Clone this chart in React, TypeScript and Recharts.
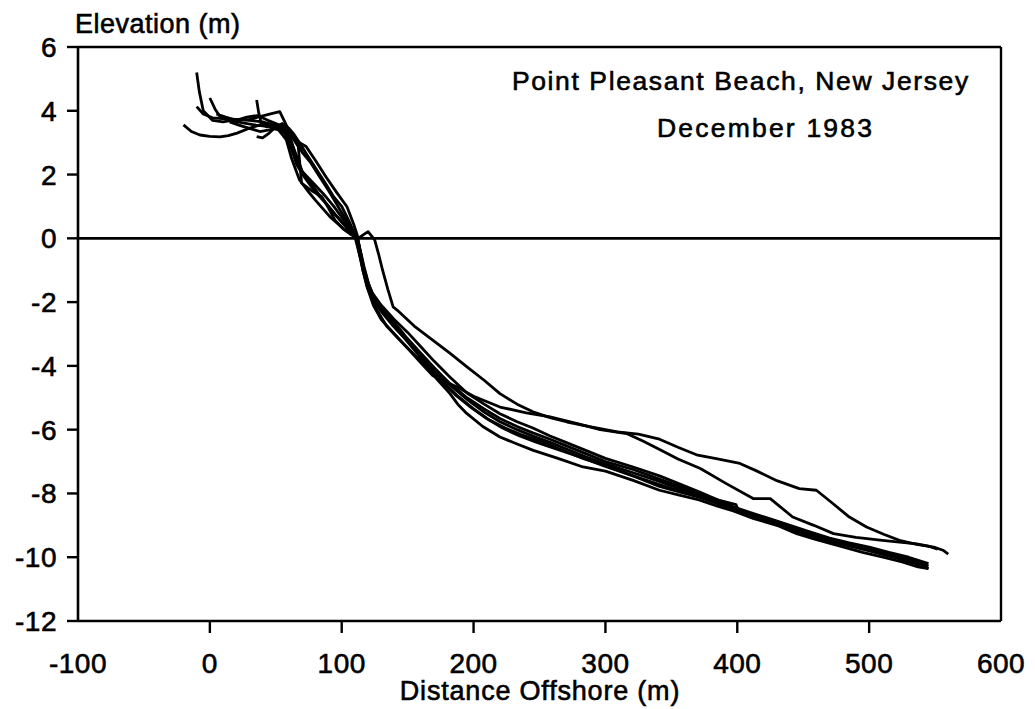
import React from 'react';
import { LineChart, Line, XAxis, YAxis, ReferenceLine } from 'recharts';

// distance offshore (m), elevation (m), one array per survey line
const profile1: [number, number][] = [
  [-10, 4.13], [-5, 3.9], [2, 3.78], [12, 3.75], [22, 3.72], [30, 3.72], [38, 3.82], [46, 3.9], [53, 3.97],
  [58, 3.55], [63, 3.19], [68, 3.0], [73, 2.88], [80, 2.45], [88, 1.93], [96, 1.45], [104, 0.99], [109, 0.45],
  [112.6, 0], [116, 0.1], [120, 0.21], [125, -0.05], [128, -0.5], [131, -1.0], [135, -1.6], [139, -2.15],
  [142, -2.25], [155, -2.75], [169, -3.19], [182, -3.6], [195, -4.03], [208, -4.45], [220, -4.87], [233, -5.2],
  [245, -5.44], [258, -5.62], [271, -5.76], [290, -5.92], [309, -6.07], [325, -6.14], [341, -6.3], [355, -6.55],
  [370, -6.8], [384, -6.91], [402, -7.06], [415, -7.3], [430, -7.6], [447, -7.85], [460, -7.9], [472, -8.3],
  [485, -8.74], [498, -9.05], [511, -9.28], [523, -9.47], [536, -9.6], [549, -9.68], [556, -9.78], [560, -9.9],
];
const profile2: [number, number][] = [
  [-20, 3.56], [-14, 3.35], [-7.5, 3.24], [0, 3.2], [7.7, 3.18], [14, 3.22], [20.6, 3.3], [30.4, 3.46], [38, 3.56],
  [45, 3.6], [52, 3.5], [57, 3.3], [62, 3.0], [66, 2.55], [70, 2.1], [78, 1.75], [86, 1.4], [94, 1.0], [102, 0.55],
  [111, 0], [115, -0.8], [119, -1.5], [124, -2.1], [130, -2.55], [140, -3.0], [150, -3.45], [160, -3.9], [169, -4.3],
  [178, -4.5], [187, -4.65], [200, -4.95], [220, -5.29], [240, -5.47], [258, -5.6], [278, -5.8], [296, -6.0],
  [316, -6.12], [328, -6.35], [340, -6.6], [355, -6.92], [372, -7.22], [392, -7.7], [412, -8.16], [425, -8.16],
  [442, -8.74], [458, -9.0], [473, -9.26], [490, -9.38], [510, -9.47], [536, -9.58], [545, -9.65], [552, -9.75],
];
const profile3: [number, number][] = [
  [0, 4.4], [4, 4.05], [7.7, 3.82], [15, 3.7], [25, 3.62], [35, 3.55], [45, 3.5], [52, 3.4], [56, 3.2], [58, 3.09],
  [62, 2.5], [68, 1.83], [74, 1.5], [80, 1.2], [91, 0.68], [100, 0.35], [110, 0.05], [114, -0.6], [118, -1.2],
  [123, -1.7], [130, -2.1], [140, -2.55], [150, -2.95], [160, -3.4], [170, -3.85], [182, -4.35], [195, -4.85],
  [208, -5.2], [220, -5.5], [233, -5.75], [245, -5.95], [258, -6.2], [270, -6.4], [285, -6.65], [300, -6.9],
  [321, -7.17], [341, -7.45], [356, -7.7], [371, -7.95], [385, -8.2], [397, -8.42], [410, -8.6], [425, -8.8],
  [440, -9.0], [455, -9.2], [470, -9.4], [485, -9.55], [500, -9.68], [515, -9.85], [530, -10.0], [545, -10.2],
];
const profile4: [number, number][] = [
  [-10, 5.2], [-8, 4.6], [-5, 4.0], [2, 3.7], [10, 3.65], [20, 3.72], [30, 3.7], [40, 3.65], [48, 3.55], [55, 3.35],
  [62, 3.2], [67, 2.88], [69.6, 1.73], [77, 1.5], [84.8, 1.31], [90, 0.95], [94.9, 0.57], [101, 0.3], [107.6, 0.1],
  [112, 0], [116, -1.0], [120, -1.6], [126, -2.0], [132, -2.35], [140, -2.75], [150, -3.15], [160, -3.6],
  [170, -4.05], [182, -4.55], [195, -5.0], [208, -5.35], [220, -5.65], [233, -5.9], [245, -6.1], [258, -6.3],
  [270, -6.5], [285, -6.75], [300, -7.0], [321, -7.25], [341, -7.55], [356, -7.78], [371, -8.0], [385, -8.2],
  [399, -8.35], [401, -8.55], [415, -8.7], [430, -8.9], [445, -9.1], [460, -9.3], [475, -9.48], [490, -9.62],
  [505, -9.78], [520, -9.95], [535, -10.1], [545, -10.28],
];
const profile5: [number, number][] = [
  [35.5, 4.34], [37, 3.95], [39, 3.61], [43, 3.5], [48, 3.55], [54, 3.5], [60, 3.3], [65, 3.1], [70, 2.7],
  [76, 2.4], [83, 1.95], [90, 1.5], [95, 1.15], [100, 0.8], [106, 0.4], [112, 0], [117, -0.9], [121, -1.52],
  [125, -1.9], [129, -2.15], [136, -2.5], [144, -2.9], [152, -3.3], [160, -3.7], [170, -4.15], [182, -4.6],
  [195, -5.05], [208, -5.45], [220, -5.75], [233, -6.0], [245, -6.2], [258, -6.4], [270, -6.6], [285, -6.85],
  [300, -7.07], [321, -7.35], [341, -7.62], [356, -7.85], [371, -8.05], [385, -8.28], [397, -8.48], [410, -8.68],
  [425, -8.88], [440, -9.05], [455, -9.25], [470, -9.45], [485, -9.6], [500, -9.75], [515, -9.9], [530, -10.1],
  [540, -10.2],
];
const profile6: [number, number][] = [
  [35.5, 3.19], [40, 3.15], [45, 3.3], [50, 3.5], [55, 3.6], [60, 3.45], [64, 3.25], [68, 3.0], [74, 2.6],
  [81, 2.15], [88, 1.7], [94, 1.3], [100, 1.0], [106, 0.5], [111, 0], [115, -0.7], [119, -1.4], [124, -1.95],
  [130, -2.3], [138, -2.7], [148, -3.15], [158, -3.65], [168, -4.15], [178, -4.55], [188, -4.95], [200, -5.35],
  [212, -5.7], [224, -5.95], [236, -6.15], [250, -6.35], [265, -6.6], [283, -6.9], [300, -7.12], [321, -7.45],
  [341, -7.72], [356, -7.92], [371, -8.1], [385, -8.32], [397, -8.5], [412, -8.75], [427, -8.95], [445, -9.2],
  [460, -9.38], [475, -9.55], [490, -9.7], [505, -9.85], [520, -10.0], [535, -10.15], [545, -10.36],
];
const profile7: [number, number][] = [
  [5, 3.9], [12, 3.8], [20, 3.7], [28, 3.8], [36, 3.85], [44, 3.7], [50, 3.6], [56, 3.5], [60, 3.3], [65, 2.6],
  [70, 2.1], [77, 1.7], [85, 1.25], [92, 0.9], [100, 0.5], [107, 0.2], [112, 0], [116, -0.8], [120, -1.4],
  [125, -1.9], [131, -2.25], [139, -2.6], [147, -3.0], [156, -3.5], [165, -3.95], [175, -4.45], [186, -4.9],
  [198, -5.3], [210, -5.65], [222, -5.95], [235, -6.2], [248, -6.4], [262, -6.6], [280, -6.85], [300, -7.15],
  [321, -7.45], [341, -7.78], [356, -7.95], [371, -8.12], [385, -8.3], [397, -8.45], [412, -8.7], [427, -8.9],
  [443, -9.15], [460, -9.35], [475, -9.5], [490, -9.65], [505, -9.85], [520, -10.02], [535, -10.2], [541, -10.3],
];
const profile8: [number, number][] = [
  [15, 3.65], [22, 3.55], [30, 3.45], [38, 3.35], [45, 3.4], [52, 3.45], [57, 3.3], [61, 2.9], [66, 2.3],
  [72, 1.9], [80, 1.45], [88, 1.1], [95, 0.75], [102, 0.45], [108, 0.2], [112, 0], [115, -0.6], [118, -1.2],
  [121, -1.7], [126, -2.2], [134, -2.75], [144, -3.19], [154, -3.6], [164.4, -4.03], [173, -4.45], [182.1, -4.87],
  [188, -5.2], [194.8, -5.49], [207, -5.9], [220, -6.23], [233, -6.45], [245.3, -6.65], [264, -6.9], [283, -7.17],
  [300, -7.3], [321, -7.59], [341, -7.9], [356, -8.05], [371, -8.2], [385, -8.4], [397, -8.55], [412, -8.78],
  [430, -9.0], [445, -9.26], [460, -9.45], [478, -9.65], [495, -9.85], [510.5, -10.0], [525, -10.15], [537, -10.3],
  [545, -10.36],
];

const profiles = [profile1, profile2, profile3, profile4, profile5, profile6, profile7, profile8];

const xTicks = [-100, 0, 100, 200, 300, 400, 500, 600];
const yTicks = [-12, -10, -8, -6, -4, -2, 0, 2, 4, 6];

const titleLine1 = 'Point Pleasant Beach, New Jersey';
const titleLine2 = 'December 1983';
const xTitle = 'Distance Offshore (m)';
const yTitle = 'Elevation (m)';

const FONT = '"Liberation Sans", Arial, Helvetica, sans-serif';
// the scanned lettering is heavier than a regular face, so give it a hairline stroke
const ink = { fill: '#000', stroke: '#000', strokeWidth: 0.6, fontFamily: FONT };

// tick mark + label drawn by hand so the corner ticks can be left out
const XTick = ({ x, y, payload }: any) => {
  const v = payload.value;
  const edge = v === -100 || v === 600;
  return (
    <g>
      {!edge && <line x1={x} y1={y} x2={x} y2={y + 12} stroke="#000" strokeWidth={2.4} />}
      <text x={x} y={y + 52} textAnchor="middle" fontSize={28} letterSpacing={0.5} {...ink}>
        {v}
      </text>
    </g>
  );
};

const YTick = ({ x, y, payload }: any) => (
  <g>
    <line x1={x - 11} y1={y} x2={x} y2={y} stroke="#000" strokeWidth={2.4} />
    <text x={x - 21} y={y + 10} textAnchor="end" fontSize={28} letterSpacing={0.5} {...ink}>
      {payload.value}
    </text>
  </g>
);

export default function App() {
  const series = profiles.map((p) => p.map(([x, y]) => ({ x, y })));
  return (
    <div style={{ position: 'absolute', left: 0, top: 0, width: 1035, height: 709, background: '#fff' }}>
      <LineChart width={1035} height={709} margin={{ top: 47, right: 34, bottom: 0, left: 0 }}>
        <XAxis
          dataKey="x"
          type="number"
          domain={[-100, 600]}
          ticks={xTicks}
          height={88}
          allowDataOverflow
          tickLine={false}
          tickSize={0}
          tickMargin={0}
          tick={<XTick />}
          axisLine={{ stroke: '#000', strokeWidth: 2.6 }}
        />
        <YAxis
          dataKey="y"
          type="number"
          domain={[-12, 6]}
          ticks={yTicks}
          width={78}
          allowDataOverflow
          tickLine={false}
          tickSize={0}
          tickMargin={0}
          tick={<YTick />}
          axisLine={{ stroke: '#000', strokeWidth: 2.6 }}
        />
        <ReferenceLine y={6} stroke="#000" strokeWidth={2.4} />
        <ReferenceLine x={600} stroke="#000" strokeWidth={2.4} />
        <ReferenceLine y={0} stroke="#000" strokeWidth={2.6} />
        {series.map((d, i) => (
          <Line
            key={i}
            data={d}
            dataKey="y"
            type="linear"
            stroke="#000"
            strokeWidth={2.8}
            strokeLinejoin="round"
            dot={false}
            activeDot={false}
            isAnimationActive={false}
          />
        ))}
      </LineChart>
      <svg width={1035} height={709} style={{ position: 'absolute', left: 0, top: 0, pointerEvents: 'none' }}>
        <text x={75} y={33} fontSize={27} letterSpacing={0.5} {...ink}>{yTitle}</text>
        <text x={540} y={700} textAnchor="middle" fontSize={27} letterSpacing={0.8} {...ink}>{xTitle}</text>
        <text x={512} y={90} fontSize={26.5} letterSpacing={1.6} {...ink}>{titleLine1}</text>
        <text x={657} y={137} fontSize={26.5} letterSpacing={2.2} {...ink}>{titleLine2}</text>
      </svg>
    </div>
  );
}
